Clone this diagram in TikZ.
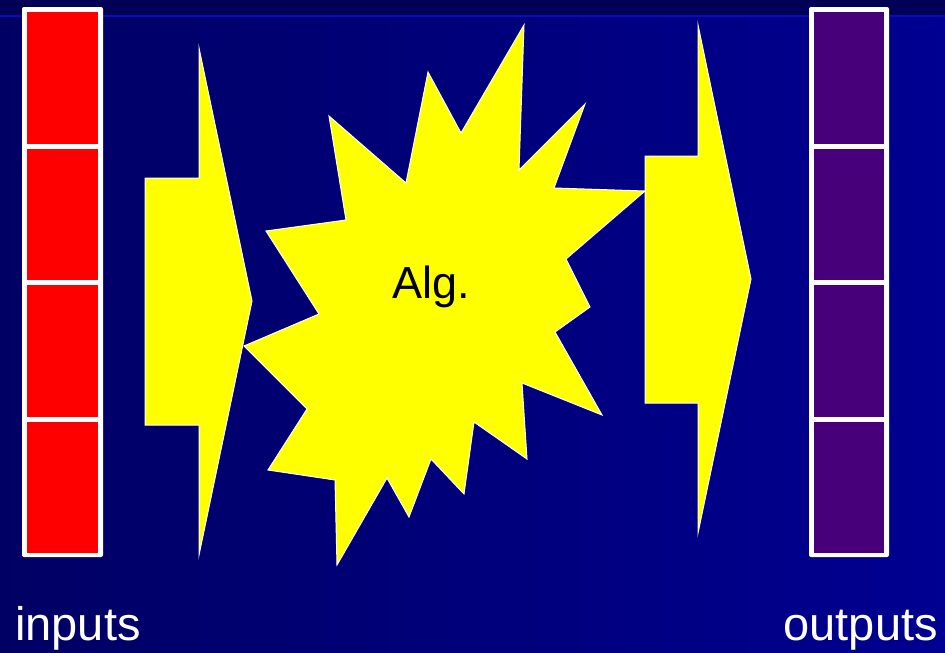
\documentclass[tikz,border=0pt]{standalone}
\usepackage{fontspec}
\setmainfont{Liberation Sans}
\definecolor{navy}{RGB}{0,0,100}
\definecolor{royal}{RGB}{0,0,145}
\definecolor{topband}{RGB}{0,0,86}
\definecolor{glow}{RGB}{10,10,190}
\definecolor{cellred}{RGB}{255,0,0}
\definecolor{cellpurple}{RGB}{72,0,122}
\definecolor{flash}{RGB}{255,255,0}

\begin{document}
\begin{tikzpicture}[x=1pt,y=-1pt,
  shapeline/.style={draw=white,line width=1pt,line join=miter},
  label/.style={text=white,font=\fontsize{47}{54}\selectfont,inner sep=0pt}]
\useasboundingbox (0,0) rectangle (945,653);
\shade[left color=navy,right color=royal] (0,0) rectangle (945,653);
\fill[topband] (0,0) rectangle (945,15);
\draw[glow,line width=1.5pt] (0,16) -- (945,16);

% input column
\fill[white,rounded corners=2pt] (22,7) rectangle (103,557);
\fill[cellred] (27,12) rectangle (98,144);
\fill[cellred] (27,149) rectangle (98,280);
\fill[cellred] (27,285) rectangle (98,417);
\fill[cellred] (27,422) rectangle (98,553);

% output column
\fill[white,rounded corners=2pt] (809,7) rectangle (889,557);
\fill[cellpurple] (814,12) rectangle (884,144);
\fill[cellpurple] (814,149) rectangle (884,280);
\fill[cellpurple] (814,285) rectangle (884,417);
\fill[cellpurple] (814,422) rectangle (884,553);

% left arrow
\filldraw[flash,shapeline] (145,178) -- (199,178) -- (199,48) -- (252,301)
  -- (199,555) -- (199,425) -- (145,425) -- cycle;

% right arrow
\filldraw[flash,shapeline] (645,156) -- (698,156) -- (698,25) -- (751,279)
  -- (698,533) -- (698,403) -- (645,403) -- cycle;

% burst
\filldraw[flash,shapeline] (524,25) -- (519,170) -- (585,104) -- (554,188)
  -- (645,191) -- (566,259) -- (590,307) -- (555,332) -- (602,415)
  -- (522,383) -- (527,459) -- (474,422) -- (464,494) -- (431,459)
  -- (409,517) -- (387,478) -- (337,565) -- (335,480) -- (268,470)
  -- (307,409) -- (244,346) -- (319,314) -- (266,231) -- (346,220)
  -- (329,116) -- (406,183) -- (428,72) -- (461,133) -- cycle;

\node[anchor=base,text=black,font=\fontsize{45}{52}\selectfont] (alg) at (431,298) {Alg.};
\node[label,anchor=base west] (inputs) at (15,640) {inputs};
\node[label,anchor=base east] (outputs) at (938,640) {outputs};
\end{tikzpicture}
\end{document}
